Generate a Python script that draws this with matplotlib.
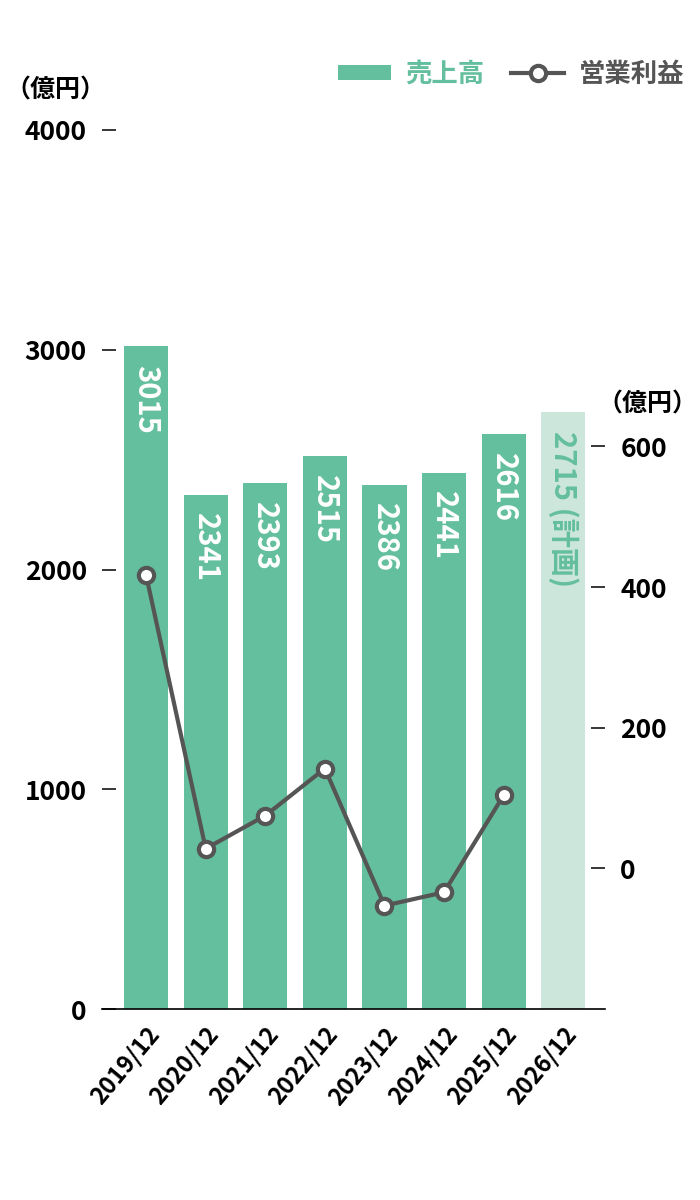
import matplotlib
matplotlib.use("Agg")
import matplotlib.pyplot as plt
from matplotlib.patches import Patch
from matplotlib.lines import Line2D

plt.rcParams['font.family'] = ['Noto Sans CJK JP', 'DejaVu Sans']

years = ["2019/12", "2020/12", "2021/12", "2022/12", "2023/12", "2024/12", "2025/12", "2026/12"]
sales = [3015, 2341, 2393, 2515, 2386, 2441, 2616, 2715]
sales_labels = ["3015", "2341", "2393", "2515", "2386", "2441", "2616", "2715 (計画)"]
plan_flags = [False, False, False, False, False, False, False, True]
op_income = [417, 28, 75, 142, -53, -34, 104]

left_ticks = [0, 1000, 2000, 3000, 4000]
right_ticks = [0, 200, 400, 600]

GREEN = "#64bf9e"
LIGHT = "#cce6dc"
GRAY = "#555555"
W = 'bold'

fig = plt.figure(figsize=(7, 12), dpi=100)
ax = fig.add_axes([102/700, 1 - 1009/1200, (605-102)/700, (1009-130)/1200])

x = list(range(len(years)))
colors = [LIGHT if p else GREEN for p in plan_flags]
ax.bar(x, sales, width=0.74, color=colors, zorder=1)

for xi, v, lab, p in zip(x, sales, sales_labels, plan_flags):
    ax.text(xi, v - 85, lab, rotation=-90, ha='center', va='top',
            color=(GREEN if p else "white"), fontsize=21, fontweight=W,
            zorder=3)

ax.set_xlim(-0.74, 7.7)
ax.set_ylim(0, 4000)
ax.set_yticks(left_ticks)
ax.set_yticklabels([str(t) for t in left_ticks], fontweight=W)
ax.tick_params(axis='y', direction='in', length=10, width=1.1, pad=11,
               labelsize=19, colors='black')
ax.set_xticks(x)
ax.set_xticklabels(years, rotation=50, ha='right', rotation_mode='anchor',
                   fontsize=17, fontweight=W)
ax.tick_params(axis='x', length=0, pad=10)
for s in ['left', 'top', 'right']:
    ax.spines[s].set_visible(False)
ax.spines['bottom'].set_linewidth(1.2)

ax2 = ax.twinx()
ax2.set_ylim(-200, 1050)
ax2.plot(x[:len(op_income)], op_income, color=GRAY, lw=3, marker='o',
         markersize=11, markerfacecolor='white', markeredgecolor=GRAY,
         markeredgewidth=3, zorder=5)
ax2.set_yticks(right_ticks)
ax2.set_yticklabels([str(t) for t in right_ticks], fontweight=W)
ax2.tick_params(axis='y', direction='in', length=10, width=1.1, pad=11,
                labelsize=19, colors='black')
for s in ['left', 'top', 'right', 'bottom']:
    ax2.spines[s].set_visible(False)

fig.text(5/700, 1 - 90/1200, "（億円）", fontsize=18, fontweight=W,
         ha='left', va='center')
fig.text(597/700, 1 - 404/1200, "（億円）", fontsize=18, fontweight=W,
         ha='left', va='center')

handles = [Patch(facecolor=GREEN, edgecolor='none'),
           Line2D([0], [0], color=GRAY, lw=3, marker='o', markersize=11,
                  markerfacecolor='white', markeredgecolor=GRAY, markeredgewidth=3)]
leg = fig.legend(handles, ["売上高", "営業利益"], ncol=2, loc='center right',
                 bbox_to_anchor=(684/700, 1 - 74/1200), frameon=False,
                 borderaxespad=0, borderpad=0,
                 handlelength=2.0, handleheight=0.5,
                 columnspacing=1.0, handletextpad=0.55,
                 prop={'weight': W, 'size': 19})
for t, c in zip(leg.get_texts(), [GREEN, GRAY]):
    t.set_color(c)

fig.savefig("out.png", dpi=100)
